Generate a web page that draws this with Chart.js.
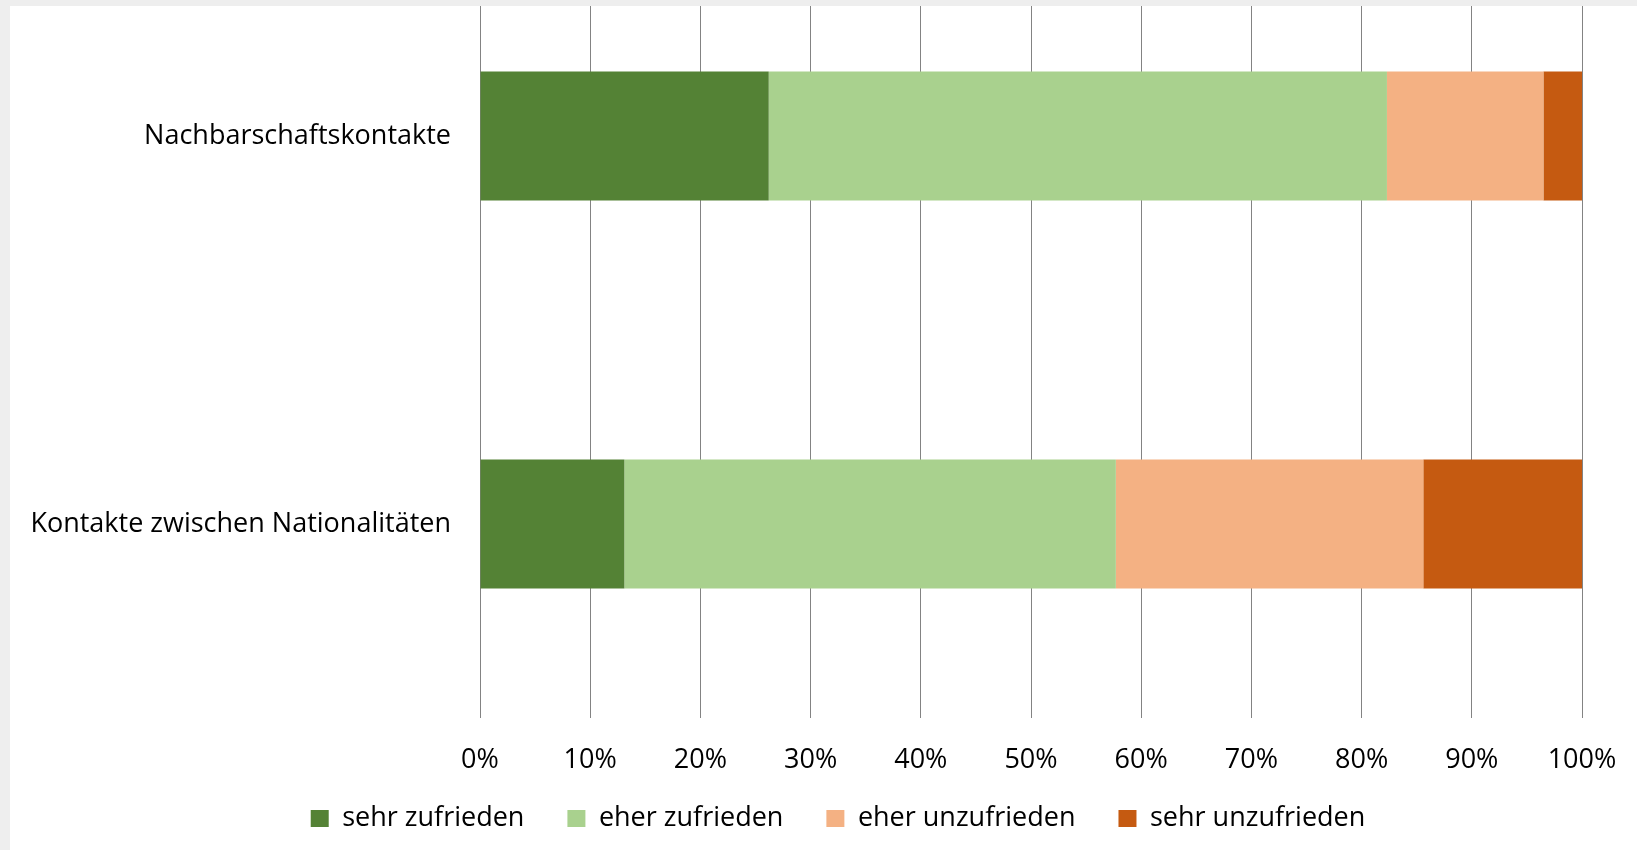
<!DOCTYPE html>
<html>
<head>
<meta charset="utf-8">
<script src="https://cdn.jsdelivr.net/npm/chart.js@4"></script>
<style>
    html, body { margin: 0; padding: 0; }
    body { width: 1637px; height: 850px; background: #eeeeee; overflow: hidden; position: relative; }
    #panel { position: absolute; left: 10px; top: 6px; width: 1627px; height: 844px; background: #ffffff; overflow: hidden; }
    /* the original chart is cropped at the top, so the canvas starts above the panel */
    #chart { position: absolute; left: 0; top: -70px; }
</style>
</head>
<body>
<div id="panel">
    <canvas id="chart" width="1627" height="920"></canvas>
</div>
<script>
const categories = ['Nachbarschaftskontakte', 'Kontakte zwischen Nationalitäten'];
const seriesNames = ['sehr zufrieden', 'eher zufrieden', 'eher unzufrieden', 'sehr unzufrieden'];
const sehrZufrieden = [26.2, 13.1];
const eherZufrieden = [56.1, 44.6];
const eherUnzufrieden = [14.2, 27.9];
const sehrUnzufrieden = [3.5, 14.4];
const seriesColors = ['#548235', '#A9D18E', '#F4B183', '#C55A11'];
const xTicks = [0, 10, 20, 30, 40, 50, 60, 70, 80, 90, 100];

const fontFamily = '"Open Sans", sans-serif';
const seriesValues = [sehrZufrieden, eherZufrieden, eherUnzufrieden, sehrUnzufrieden];

// legend in the original sits a bit right of centre and close under the ticks
const legendShift = {
    id: 'legendShift',
    afterLayout(chart) {
        chart.legend.left += 42;
        chart.legend.right += 42;
        chart.legend.top -= 12;
        chart.legend.bottom -= 12;
    }
};

new Chart(document.getElementById('chart'), {
    type: 'bar',
    data: {
        labels: categories,
        datasets: seriesNames.map((name, i) => ({
            label: name,
            data: seriesValues[i],
            backgroundColor: seriesColors[i],
            borderWidth: 0,
            barPercentage: 0.333,
            categoryPercentage: 1.0
        }))
    },
    options: {
        indexAxis: 'y',
        responsive: false,
        animation: false,
        layout: {
            padding: { top: 6, right: 55, left: 0, bottom: 2 }
        },
        scales: {
            x: {
                stacked: true,
                min: 0,
                max: 100,
                afterBuildTicks: scale => {
                    scale.ticks = xTicks.map(v => ({ value: v }));
                },
                afterFit: scale => {
                    scale.height = 56;
                    scale.paddingLeft = 0;
                    scale.paddingRight = 0;
                },
                ticks: {
                    callback: v => v + '%',
                    color: '#000000',
                    padding: 26,
                    maxRotation: 0,
                    font: { family: fontFamily, size: 27 }
                },
                grid: {
                    color: '#838383',
                    lineWidth: 1,
                    drawTicks: false
                },
                border: { display: false }
            },
            y: {
                stacked: true,
                afterFit: scale => {
                    scale.width = 470;
                    scale.paddingTop = 0;
                    scale.paddingBottom = 0;
                },
                ticks: {
                    color: '#000000',
                    padding: 29,
                    font: { family: fontFamily, size: 27 }
                },
                grid: { display: false, drawTicks: false },
                border: { display: false }
            }
        },
        plugins: {
            tooltip: { enabled: false },
            legend: {
                position: 'bottom',
                labels: {
                    boxWidth: 18,
                    boxHeight: 17,
                    padding: 43,
                    color: '#000000',
                    font: { family: fontFamily, size: 27 }
                }
            }
        }
    },
    plugins: [legendShift]
});
</script>
</body>
</html>
